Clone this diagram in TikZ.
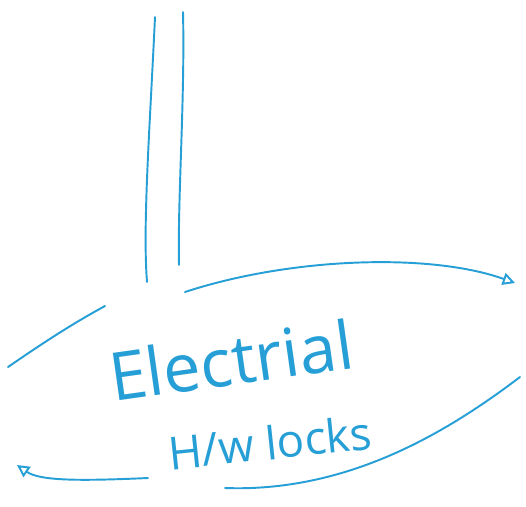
\documentclass[tikz,border=0pt]{standalone}
\usepackage{fontspec}
\newfontfamily\handfont{Open Sans}
\usepackage{tikz}
\usetikzlibrary{arrows.meta,positioning}
\definecolor{pen}{RGB}{38,158,214}

\begin{document}
\begin{tikzpicture}[
  stroke/.style={draw=pen, line width=1.1pt, line cap=round},
  arr/.style={stroke, -{Triangle[open, length=7pt, width=7pt]}},
  lbl/.style={text=pen, font=\handfont, inner sep=0pt},
]
\useasboundingbox (0,0) rectangle (10.52,-10.12);

% Vertical pipe
\coordinate (pipeA1) at (3.10,-0.34);
\coordinate (pipeA2) at (2.94,-5.64);
\coordinate (pipeB1) at (3.66,-0.24);
\coordinate (pipeB2) at (3.58,-5.30);
\draw[stroke] (pipeA1) .. controls (3.0,-2.5) and (2.85,-4.5) .. (pipeA2);
\draw[stroke] (pipeB1) .. controls (3.7,-2.0) and (3.55,-4.0) .. (pipeB2);

% Loop around the label
\coordinate (topL) at (3.70,-5.84);
\coordinate (topR) at (10.30,-5.66);
\draw[arr] (topL) .. controls (5.8,-5.15) and (8.6,-5.05) .. (topR);

\coordinate (leftA) at (0.16,-7.34);
\coordinate (leftB) at (2.10,-6.12);
\draw[stroke] (leftA) .. controls (0.8,-6.9) and (1.4,-6.5) .. (leftB);

\coordinate (botR1) at (4.50,-9.76);
\coordinate (botR2) at (10.40,-7.54);
\draw[stroke] (botR1) .. controls (7.0,-9.85) and (9.0,-8.6) .. (botR2);

\coordinate (botL) at (2.96,-9.56);
\coordinate (tipL) at (0.34,-9.30);
\draw[arr] (botL) .. controls (1.6,-9.62) and (0.8,-9.62) .. (tipL);

% Label
\node[lbl, rotate=8, font=\handfont\fontsize{38}{44}\selectfont] (elec) at (4.62,-7.2) {Electrial};
\node[lbl, rotate=6, font=\handfont\fontsize{26}{30}\selectfont] (hw) at (5.40,-8.85) {H/w locks};
\end{tikzpicture}
\end{document}
